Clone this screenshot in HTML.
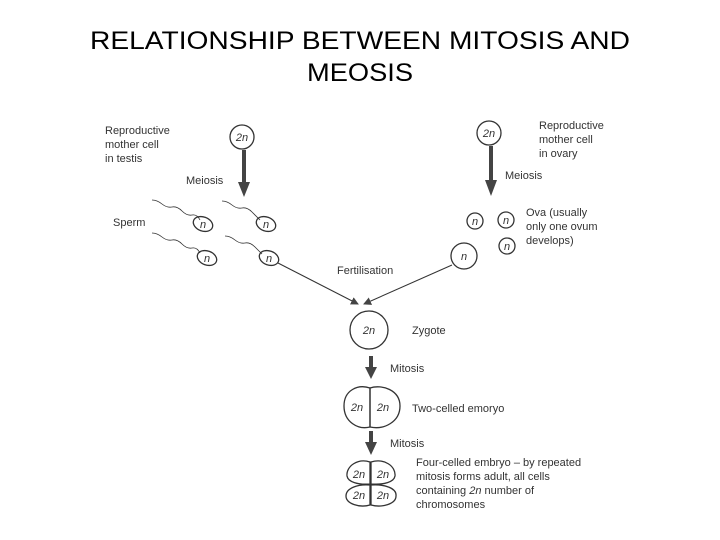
<!DOCTYPE html>
<html><head><style>body{margin:0;background:#fff}svg{display:block}</style></head><body>
<svg width="720" height="540" viewBox="0 0 720 540" xmlns="http://www.w3.org/2000/svg" font-family="Liberation Sans, sans-serif">
<defs><marker id="a" markerWidth="8" markerHeight="8" refX="7" refY="4" orient="auto" markerUnits="userSpaceOnUse"><path d="M0,0 L8,4 L0,8 z" fill="#444"/></marker></defs>
<text x="360" y="49" font-size="25" text-anchor="middle" textLength="540" lengthAdjust="spacingAndGlyphs">RELATIONSHIP BETWEEN MITOSIS AND</text>
<text x="360" y="81" font-size="25" text-anchor="middle" textLength="106" lengthAdjust="spacingAndGlyphs">MEOSIS</text>
<g font-size="11" fill="#333">
<text x="105" y="134">Reproductive</text><text x="105" y="148">mother cell</text><text x="105" y="162">in testis</text>
<text x="539" y="129">Reproductive</text><text x="539" y="143">mother cell</text><text x="539" y="157">in ovary</text>
<text x="186" y="184">Meiosis</text><text x="505" y="179">Meiosis</text>
<text x="113" y="226">Sperm</text>
<text x="526" y="216">Ova (usually</text><text x="526" y="230">only one ovum</text><text x="526" y="244">develops)</text>
<text x="337" y="274">Fertilisation</text>
<text x="412" y="334">Zygote</text>
<text x="390" y="372">Mitosis</text>
<text x="412" y="412">Two-celled emoryo</text>
<text x="390" y="447">Mitosis</text>
<text x="416" y="466">Four-celled embryo – by repeated</text>
<text x="416" y="480">mitosis forms adult, all cells</text>
<text x="416" y="494">containing <tspan font-style="italic">2n</tspan> number of</text>
<text x="416" y="508">chromosomes</text>
</g>
<g fill="none" stroke="#333" stroke-width="1.3">
<circle cx="242" cy="137" r="12"/><circle cx="489" cy="133" r="12"/>
<g transform="rotate(20 203 224)"><ellipse cx="203" cy="224" rx="10" ry="7"/></g>
<g transform="rotate(20 266 224)"><ellipse cx="266" cy="224" rx="10" ry="7"/></g>
<g transform="rotate(20 207 258)"><ellipse cx="207" cy="258" rx="10" ry="7"/></g>
<g transform="rotate(20 269 258)"><ellipse cx="269" cy="258" rx="10" ry="7"/></g>
<path d="M152,200 q5,0 10,4 t10,3 t10,4 t10,4 t8,5" stroke-width="0.8"/>
<path d="M222,201 q5,0 10,4 t10,3 t10,4 t8,8" stroke-width="0.8"/>
<path d="M152,233 q5,0 10,4 t10,3 t10,4 t10,4 t8,5" stroke-width="0.8"/>
<path d="M225,236 q5,0 10,4 t10,3 t10,4 t7,7" stroke-width="0.8"/>
<circle cx="475" cy="221" r="8"/><circle cx="506" cy="220" r="8"/><circle cx="507" cy="246" r="8"/><circle cx="464" cy="256" r="13"/>
<line x1="278" y1="263" x2="358" y2="304" marker-end="url(#a)" stroke-width="1"/>
<line x1="452" y1="265" x2="364" y2="304" marker-end="url(#a)" stroke-width="1"/>
<circle cx="369" cy="330" r="19"/>
<path d="M370,388 C358,384 344,390 344,406 C344,422 358,430 370,427 Z"/>
<path d="M370,388 C382,384 400,390 400,406 C400,422 384,430 370,427 Z"/>
<path d="M370,462 C358,458 346,466 347,476 C348,482 358,485 370,484 Z"/>
<path d="M371,462 C384,458 396,466 395,476 C394,482 384,485 371,484 Z"/>
<path d="M370,485 C358,484 346,488 346,496 C346,504 360,508 370,505 Z"/>
<path d="M371,485 C384,484 397,488 396,496 C396,504 382,508 371,505 Z"/>
</g>
<g font-size="11" font-style="italic" fill="#333" text-anchor="middle">
<text x="242" y="141">2n</text><text x="489" y="137">2n</text>
<text x="203" y="228">n</text><text x="266" y="228">n</text><text x="207" y="262">n</text><text x="269" y="262">n</text>
<text x="475" y="225">n</text><text x="506" y="224">n</text><text x="507" y="250">n</text><text x="464" y="260">n</text>
<text x="369" y="334">2n</text>
<text x="357" y="411">2n</text><text x="383" y="411">2n</text>
<text x="359" y="478">2n</text><text x="383" y="478">2n</text><text x="359" y="499">2n</text><text x="383" y="499">2n</text>
</g>
<g fill="#444">
<rect x="242" y="150" width="4" height="34"/><path d="M238,182 L250,182 L244,197 z"/>
<rect x="489" y="146" width="4" height="36"/><path d="M485,180 L497,180 L491,196 z"/>
<rect x="369" y="356" width="4" height="13"/><path d="M365,367 L377,367 L371,379 z"/>
<rect x="369" y="431" width="4" height="13"/><path d="M365,442 L377,442 L371,455 z"/>
</g>
</svg>
</body></html>
